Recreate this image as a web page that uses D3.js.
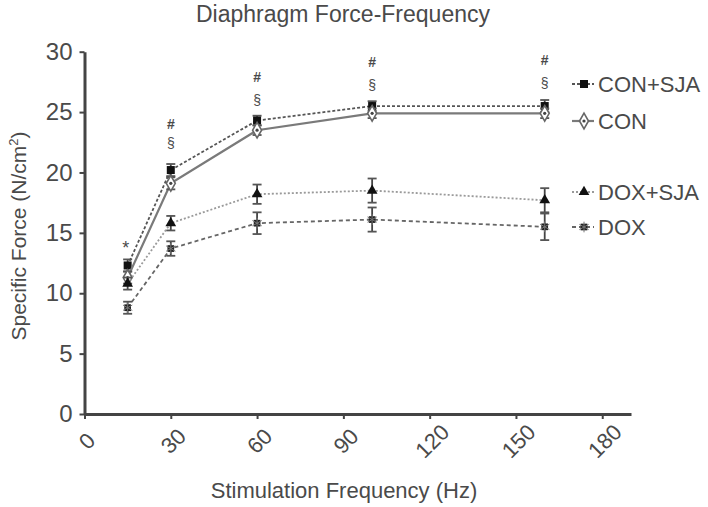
<!DOCTYPE html>
<html>
<head>
<meta charset="utf-8">
<script src="https://cdn.jsdelivr.net/npm/d3@7"></script>
<style>
  body { margin: 0; background: #fff; }
  text { font-family: "Liberation Sans", Arial, sans-serif; fill: #4a4a4a; }
</style>
</head>
<body>
<div id="chart"></div>
<script>
const width = 708
const height = 507

// data
const freqs = [15, 30, 60, 100, 160]
const conSja = [12.3, 20.2, 24.3, 25.5, 25.5]
const conSjaErr = [0.5, 0.5, 0.4, 0.4, 0.5]
const con = [11.3, 19.1, 23.5, 24.9, 24.9]
const conErr = [0.5, 0.5, 0.4, 0.4, 0.4]
const doxSja = [10.8, 15.8, 18.2, 18.5, 17.7]
const doxSjaErr = [0.5, 0.6, 0.8, 1.0, 1.0]
const dox = [8.8, 13.7, 15.8, 16.1, 15.5]
const doxErr = [0.5, 0.6, 0.9, 1.0, 1.1]

const xTicks = [0, 30, 60, 90, 120, 150, 180]
const yTicks = [0, 5, 10, 15, 20, 25, 30]

// significance marks (freq, height in N/cm2)
const starMarks = [[15, 14.3]]
const hashMarks = [[30, 24.0], [60, 27.9], [100, 29.1], [160, 29.3]]
const sectMarks = [[30, 22.4], [60, 26.0], [100, 27.2], [160, 27.4]]

const legendNames = ["CON+SJA", "CON", "DOX+SJA", "DOX"]
const legendY = [84, 121, 192, 227]

const series = [
    {name: "CON+SJA", vals: conSja, err: conSjaErr, stroke: "#555", dash: "3,2", w: 1.8, mark: "square"},
    {name: "CON", vals: con, err: conErr, stroke: "#7a7a7a", dash: null, w: 2.2, mark: "diamond"},
    {name: "DOX+SJA", vals: doxSja, err: doxSjaErr, stroke: "#9a9a9a", dash: "2,2", w: 1.8, mark: "triangle"},
    {name: "DOX", vals: dox, err: doxErr, stroke: "#666", dash: "4,3", w: 1.8, mark: "star"}
]

const svg = d3.select("div#chart").append("svg").attr("width", width).attr("height", height)

const x = d3.scaleLinear().domain([0, 190]).range([84.5, 631])
const y = d3.scaleLinear().domain([0, 30]).range([414, 51.7])

// title
svg.append("text").attr("x", 343).attr("y", 22).attr("text-anchor", "middle")
    .style("font-size", "23px").text("Diaphragm Force-Frequency")

// axes
const xAxis = d3.axisBottom(x).tickValues(xTicks).tickSize(5).tickSizeOuter(0).tickFormat(d3.format("d"))
const yAxis = d3.axisLeft(y).tickValues(yTicks).tickSize(5).tickSizeOuter(0)

const xAxisGroup = svg.append("g").attr("transform", `translate(0, ${y(0)})`).call(xAxis)
const yAxisGroup = svg.append("g").attr("transform", `translate(${x(0)}, 0)`).call(yAxis)

for (const g of [xAxisGroup, yAxisGroup]) {
    g.select(".domain").attr("stroke", "#444").attr("stroke-width", 3)
    g.selectAll(".tick line").attr("stroke", "#444").attr("stroke-width", 2)
}
yAxisGroup.selectAll(".tick text").attr("x", -12)
    .style("font-size", "24px").style("font-family", "Liberation Sans, Arial, sans-serif").attr("fill", "#4a4a4a")
xAxisGroup.selectAll(".tick text")
    .attr("y", 0).attr("dy", "0.35em")
    .attr("text-anchor", "middle")
    .attr("transform", "translate(2, 27) rotate(-45)")
    .style("font-size", "22px").style("font-family", "Liberation Sans, Arial, sans-serif").attr("fill", "#4a4a4a")

// axis titles
svg.append("text").attr("x", 344).attr("y", 498).attr("text-anchor", "middle")
    .style("font-size", "22px").text("Stimulation Frequency (Hz)")
const yl = svg.append("text").attr("transform", "translate(26, 236) rotate(-90)")
    .attr("text-anchor", "middle").style("font-size", "21px")
yl.append("tspan").text("Specific Force (N/cm")
yl.append("tspan").attr("dy", "-8").style("font-size", "13px").text("2")
yl.append("tspan").attr("dy", "8").text(")")

// markers
function drawMarker(g, type, cx, cy) {
    if (type === "square") {
        g.append("rect").attr("x", cx - 4).attr("y", cy - 4).attr("width", 8).attr("height", 8).attr("fill", "#111")
    } else if (type === "diamond") {
        g.append("path").attr("d", d3.symbol(d3.symbolDiamond, 70)()).attr("transform", `translate(${cx},${cy})`)
            .attr("fill", "#fff").attr("stroke", "#666").attr("stroke-width", 1.6)
        g.append("circle").attr("cx", cx).attr("cy", cy).attr("r", 1.6).attr("fill", "#444")
    } else if (type === "triangle") {
        g.append("path").attr("d", d3.symbol(d3.symbolTriangle, 50)()).attr("transform", `translate(${cx},${cy})`).attr("fill", "#111")
    } else {
        g.append("path").attr("d", d3.symbol(d3.symbolSquare, 45)()).attr("transform", `translate(${cx},${cy})`).attr("fill", "#222")
        g.append("path").attr("d", d3.symbol(d3.symbolAsterisk, 80)()).attr("transform", `translate(${cx},${cy})`)
            .attr("fill", "none").attr("stroke", "#777").attr("stroke-width", 1)
    }
}

const elementGroup = svg.append("g")
const line = d3.line().x(d => x(d[0])).y(d => y(d[1]))

series.forEach(s => {
    const pts = freqs.map((f, i) => [f, s.vals[i], s.err[i]])
    const g = elementGroup.append("g")
    g.append("path").datum(pts).attr("d", line).attr("fill", "none")
        .attr("stroke", s.stroke).attr("stroke-width", s.w).attr("stroke-dasharray", s.dash)
    // error bars
    g.selectAll("line.err").data(pts).enter().append("line")
        .attr("x1", d => x(d[0])).attr("x2", d => x(d[0]))
        .attr("y1", d => y(d[1] - d[2])).attr("y2", d => y(d[1] + d[2]))
        .attr("stroke", "#444").attr("stroke-width", 1.8)
    g.selectAll("line.capt").data(pts).enter().append("line")
        .attr("x1", d => x(d[0]) - 4.5).attr("x2", d => x(d[0]) + 4.5)
        .attr("y1", d => y(d[1] + d[2])).attr("y2", d => y(d[1] + d[2]))
        .attr("stroke", "#555").attr("stroke-width", 1.8)
    g.selectAll("line.capb").data(pts).enter().append("line")
        .attr("x1", d => x(d[0]) - 4.5).attr("x2", d => x(d[0]) + 4.5)
        .attr("y1", d => y(d[1] - d[2])).attr("y2", d => y(d[1] - d[2]))
        .attr("stroke", "#555").attr("stroke-width", 1.8)
    pts.forEach(d => drawMarker(g, s.mark, x(d[0]), y(d[1])))
})

// significance symbols
const sig = svg.append("g").style("font-size", "14px").attr("text-anchor", "middle")
starMarks.forEach(d => sig.append("text").attr("x", x(d[0]) - 2).attr("y", y(d[1])).attr("dy", "0.7em").style("font-size", "18px").text("*"))
hashMarks.forEach(d => sig.append("text").attr("x", x(d[0])).attr("y", y(d[1])).attr("dy", "0.35em").style("font-weight", "bold").attr("fill", "#666").text("#"))
sectMarks.forEach(d => sig.append("text").attr("x", x(d[0])).attr("y", y(d[1])).attr("dy", "0.35em").attr("fill", "#777").text("§"))

// legend
const legend = svg.append("g")
series.forEach((s, i) => {
    const ly = legendY[i]
    legend.append("line").attr("x1", 572).attr("x2", 594).attr("y1", ly).attr("y2", ly)
        .attr("stroke", s.stroke).attr("stroke-width", s.w).attr("stroke-dasharray", s.dash)
    drawMarker(legend, s.mark, 584, ly)
    legend.append("text").attr("x", 598).attr("y", ly).attr("dy", "0.36em")
        .style("font-size", "22px").text(legendNames[i])
})
</script>
</body>
</html>
